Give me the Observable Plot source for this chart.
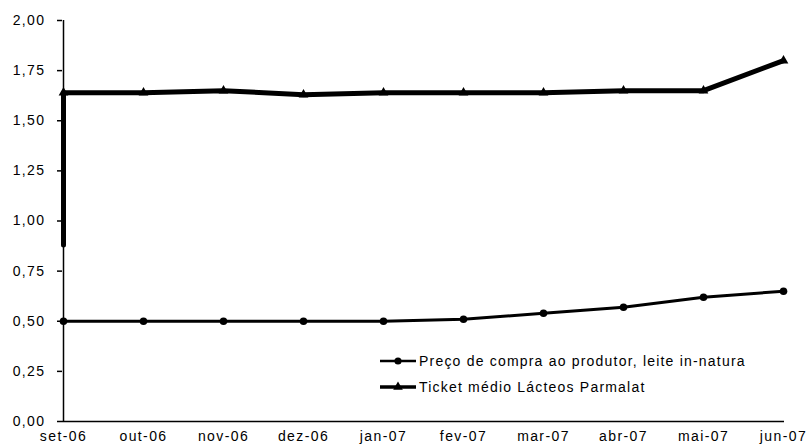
<!DOCTYPE html>
<html>
<head>
<meta charset="utf-8">
<script src="https://cdn.jsdelivr.net/npm/d3@7"></script>
<script src="https://cdn.jsdelivr.net/npm/@observablehq/plot@0.6"></script>
<style>
  html, body { margin: 0; padding: 0; background: #fff; }
  #wrap { position: relative; width: 809px; height: 448px; font-family: "Liberation Sans", Arial, sans-serif; }
  #wrap svg text { letter-spacing: 1.4px; }
  #legend { position: absolute; left: 380px; top: 348px; font-size: 14px; color: #000; letter-spacing: 1.2px; }
  #legend .row { display: flex; align-items: center; height: 26px; }
  #legend svg { margin-right: 3px; }
</style>
</head>
<body>
<div id="wrap"></div>
<script>
// ---- data ----
const months = ["set-06","out-06","nov-06","dez-06","jan-07","fev-07","mar-07","abr-07","mai-07","jun-07"];
const precoProdutor = [0.50, 0.50, 0.50, 0.50, 0.50, 0.51, 0.54, 0.57, 0.62, 0.65];
const ticketMedio   = [1.64, 1.64, 1.65, 1.63, 1.64, 1.64, 1.64, 1.65, 1.65, 1.80];
const ticketInicio  = 0.88; // first reading in set-06, before the jump
const seriesNames = ["Preço de compra ao produtor, leite in-natura", "Ticket médio Lácteos Parmalat"];
const yTicks = [0, 0.25, 0.5, 0.75, 1, 1.25, 1.5, 1.75, 2];
const yTickLabels = ["0,00","0,25","0,50","0,75","1,00","1,25","1,50","1,75","2,00"];

// ---- tables built from the arrays ----
const preco = months.map((m, i) => ({m, v: precoProdutor[i]}));
const ticket = months.map((m, i) => ({m, v: ticketMedio[i]}));
const ticketLine = [{m: months[0], v: ticketInicio}, ...ticket];

const chart = Plot.plot({
  width: 809,
  height: 448,
  marginLeft: 62,
  marginRight: 25,
  marginTop: 20,
  marginBottom: 27,
  style: {fontFamily: "Liberation Sans, Arial, sans-serif", fontSize: "14px", color: "#000", background: "#fff"},
  x: {type: "point", domain: months, padding: 0},
  y: {domain: [0, 2]},
  marks: [
    Plot.axisY({ticks: yTicks, tickFormat: d => yTickLabels[yTicks.indexOf(d)], tickSize: 5, tickPadding: 12, label: null, strokeWidth: 1.5}),
    Plot.axisX({tickSize: 0, tickPadding: 10, label: null}),
    Plot.ruleY([0], {stroke: "#000", strokeWidth: 1.5}),
    Plot.ruleX([months[0]], {stroke: "#000", strokeWidth: 1.5}),
    Plot.line(ticketLine, {x: "m", y: "v", stroke: "#000", strokeWidth: 5}),
    Plot.dot(ticket, {x: "m", y: "v", symbol: "triangle", r: 3.6, fill: "#000"}),
    Plot.line(preco, {x: "m", y: "v", stroke: "#000", strokeWidth: 3}),
    Plot.dot(preco, {x: "m", y: "v", r: 3.8, fill: "#000"})
  ]
});
document.getElementById("wrap").appendChild(chart);

// ---- legend (inside plot area, lower right) ----
const legend = document.createElement("div");
legend.id = "legend";
const symbols = ["circle", "triangle"];
seriesNames.forEach((name, i) => {
  const row = document.createElement("div");
  row.className = "row";
  const sw = d3.create("svg").attr("width", 36).attr("height", 12);
  sw.append("line").attr("x1", 0).attr("x2", 36).attr("y1", 6).attr("y2", 6)
    .attr("stroke", "#000").attr("stroke-width", i === 0 ? 2.5 : 3.5);
  sw.append("path").attr("transform", "translate(18,6)")
    .attr("d", d3.symbol(symbols[i] === "circle" ? d3.symbolCircle : d3.symbolTriangle, 40)())
    .attr("fill", "#000");
  row.appendChild(sw.node());
  const t = document.createElement("span");
  t.textContent = name;
  row.appendChild(t);
  legend.appendChild(row);
});
document.getElementById("wrap").appendChild(legend);
</script>
</body>
</html>
